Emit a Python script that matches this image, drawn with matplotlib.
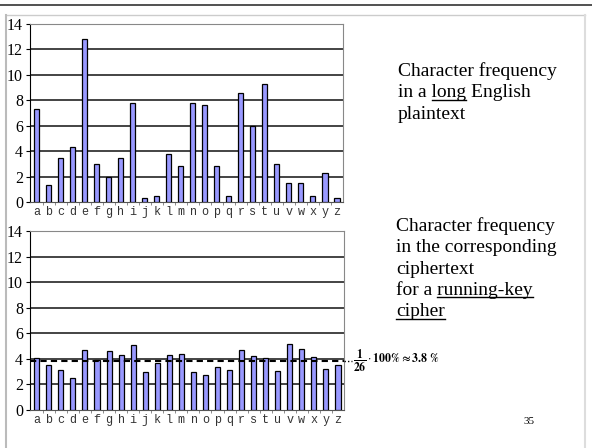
# Character frequency: English plaintext vs. running-key ciphertext
import matplotlib.pyplot as plt
from matplotlib.lines import Line2D

letters = list("abcdefghijklmnopqrstuvwxyz")

# percent
plain_freq = [7.3, 1.3, 3.5, 4.3, 12.8, 3.0, 2.0, 3.5, 7.8, 0.3, 0.5, 3.8, 2.8,
              7.8, 7.6, 2.8, 0.5, 8.6, 6.0, 9.3, 3.0, 1.5, 1.5, 0.5, 2.3, 0.3]
cipher_freq = [4.1, 3.5, 3.1, 2.5, 4.7, 3.9, 4.6, 4.3, 5.05, 3.0, 3.65, 4.3, 4.35,
               3.0, 2.75, 3.4, 3.1, 4.7, 4.2, 4.1, 3.05, 5.2, 4.8, 4.15, 3.2, 3.5]
uniform = 100 / 26
yticks = [0, 2, 4, 6, 8, 10, 12, 14]

plt.rcParams["mathtext.fontset"] = "stix"

W, H = 592, 448
fig = plt.figure(figsize=(W / 100, H / 100), dpi=100)
fig.patch.set_facecolor("white")

# slide frame
fig.add_artist(Line2D([0, 1], [1 - 5 / H, 1 - 5 / H], color="#333333", lw=1.2))
fig.add_artist(Line2D([6 / W, 585 / W], [1 - 15 / H, 1 - 15 / H], color="#cccccc", lw=1))
fig.add_artist(Line2D([6 / W, 6 / W], [0, 1 - 15 / H], color="#bbbbbb", lw=1.5))
fig.add_artist(Line2D([585 / W, 585 / W], [0, 1 - 15 / H], color="#dddddd", lw=1.5))


def px_box(l, t, r, b):
    return [l / W, 1 - b / H, (r - l) / W, (b - t) / H]


def freq_axes(rect, values):
    ax = fig.add_axes(rect)
    x = range(len(letters))
    ax.bar(x, values, width=0.42, color="#9999ff", edgecolor="black", linewidth=0.9, zorder=3)
    ax.set_xlim(-0.56, 25.5)
    ax.set_ylim(0, 14)
    ax.set_yticks(yticks)
    ax.set_yticklabels([str(v) for v in yticks], family="Liberation Serif", fontsize=11.5)
    for v in yticks[1:-1]:
        ax.axhline(v, color="#111111", lw=1.1, zorder=1)
    ax.set_xticks(list(x))
    ax.set_xticklabels(letters, family="Liberation Mono", fontsize=8.5, color="#333333")
    ax.set_xticks([i + 0.5 for i in range(25)], minor=True)
    ax.tick_params(axis="x", which="major", length=0, pad=3)
    ax.tick_params(axis="x", which="minor", length=2, color="#777777")
    ax.tick_params(axis="y", length=3, pad=2)
    for s in ("top", "right"):
        ax.spines[s].set_color("#888888")
    ax.spines["bottom"].set_color("#555555")
    ax.spines["left"].set_color("black")
    return ax


ax1 = freq_axes(px_box(30, 24, 343, 202), plain_freq)
ax2 = freq_axes(px_box(30, 231, 344, 410), cipher_freq)

# uniform level 1/26
ax2.plot([-0.56, 25.5], [uniform, uniform], color="black", lw=1.5, ls=(0, (3, 2)), zorder=4)
ax2.plot([25.5, 26.2], [uniform, uniform], color="black", lw=1, ls=(0, (1, 1.5)),
         clip_on=False, zorder=4)
ax2.text(26.25, uniform, r"$\dfrac{\mathbf{1}}{\mathbf{26}}\cdot\mathbf{100\%\approx3.8\ \%}$",
         fontsize=8.5, va="center", ha="left")

fig.text(523 / W, 1 - 424 / H, "35", family="Liberation Serif", fontsize=8)

# right-hand captions, with underlined words
renderer = fig.canvas.get_renderer()
props = dict(family="Liberation Serif", fontsize=14, va="baseline", ha="left")


def width_px(s):
    t = fig.text(0, 0, s, **props)
    w = t.get_window_extent(renderer).width
    t.remove()
    return w


def caption(x0, y0, lines, step=21.3):
    for k, (line, under) in enumerate(lines):
        y = y0 + k * step
        fig.text(x0 / W, 1 - y / H, line, **props)
        if under:
            end = line.index(under) + len(under)
            w_end = width_px(line[:end])
            w_u = width_px(under)
            uy = 1 - (y + 2.5) / H
            fig.add_artist(Line2D([(x0 + w_end - w_u) / W, (x0 + w_end) / W], [uy, uy],
                                  color="black", lw=1))


caption(398, 76, [("Character frequency", None),
                  ("in a long English", "long"),
                  ("plaintext", None)])
caption(396, 231, [("Character frequency", None),
                   ("in the corresponding", None),
                   ("ciphertext", None),
                   ("for a running-key", "running-key"),
                   ("cipher", "cipher")])

fig.savefig("out.png", dpi=100)
